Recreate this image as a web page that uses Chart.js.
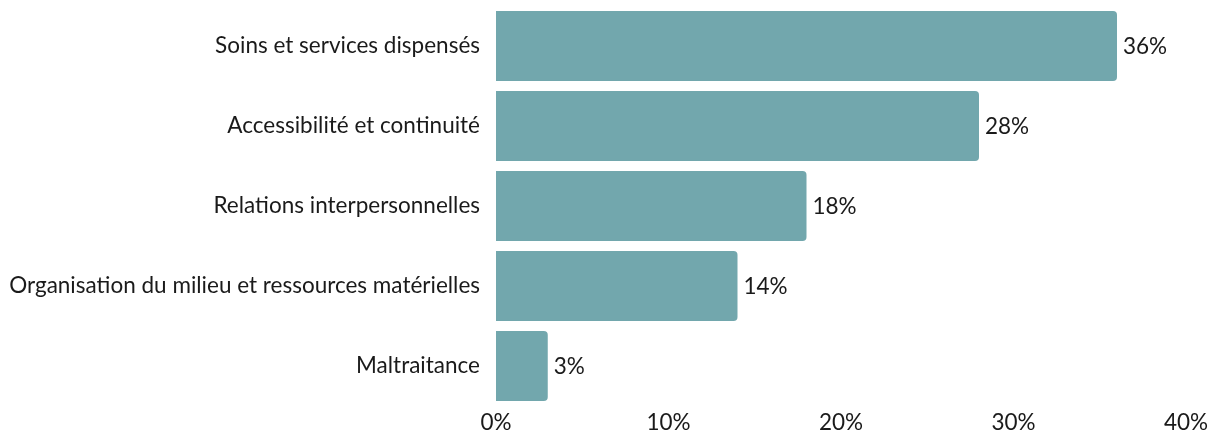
<!DOCTYPE html>
<html>
<head>
<meta charset="utf-8">
<script src="https://cdn.jsdelivr.net/npm/chart.js@4"></script>
<style>
  html, body { margin: 0; padding: 0; background: #fff; }
  #wrap { width: 1223px; height: 431px; }
</style>
</head>
<body>
<div id="wrap"><canvas id="chart" width="1223" height="431"></canvas></div>
<script>
const categories = [
  'Soins et services dispensés',
  'Accessibilité et continuité',
  'Relations interpersonnelles',
  'Organisation du milieu et ressources matérielles',
  'Maltraitance'
];
const values = [36, 28, 18, 14, 3];
const xTicks = [0, 10, 20, 30, 40];

const fontFamily = "Lato, 'Noto Sans', sans-serif";
const fontSize = 22.5;
const textColor = '#1a1a1a';

// labels at the end of each bar
const barLabels = {
  id: 'barLabels',
  afterDatasetsDraw(chart) {
    const ctx = chart.ctx;
    const meta = chart.getDatasetMeta(0);
    ctx.save();
    ctx.font = fontSize + 'px ' + fontFamily;
    ctx.fillStyle = textColor;
    ctx.textAlign = 'left';
    ctx.textBaseline = 'middle';
    meta.data.forEach((bar, i) => {
      ctx.fillText(values[i] + '%', bar.x + 6, bar.y + 1);
    });
    ctx.restore();
  }
};

new Chart(document.getElementById('chart'), {
  type: 'bar',
  data: {
    labels: categories,
    datasets: [{
      data: values,
      backgroundColor: '#72a7ad',
      borderRadius: 4,
      barPercentage: 0.875,
      categoryPercentage: 1
    }]
  },
  options: {
    indexAxis: 'y',
    responsive: false,
    animation: false,
    layout: { padding: { top: 6, right: 37, left: 0, bottom: 0 } },
    plugins: { legend: { display: false }, tooltip: { enabled: false } },
    scales: {
      x: {
        min: 0,
        max: 40,
        grid: { display: false, drawTicks: false },
        border: { display: false },
        afterBuildTicks(axis) { axis.ticks = xTicks.map(v => ({ value: v })); },
        afterFit(axis) { axis.height = 25; },
        ticks: {
          padding: 3,
          maxRotation: 0,
          color: textColor,
          font: { family: fontFamily, size: fontSize },
          callback: v => v + '%'
        }
      },
      y: {
        grid: { display: false, drawTicks: false },
        border: { display: false },
        afterFit(axis) {
          axis.width = 496;
          axis.paddingTop = 0;
          axis.paddingBottom = 0;
        },
        ticks: {
          padding: 16,
          color: textColor,
          font: { family: fontFamily, size: fontSize }
        }
      }
    }
  },
  plugins: [barLabels]
});
</script>
</body>
</html>
